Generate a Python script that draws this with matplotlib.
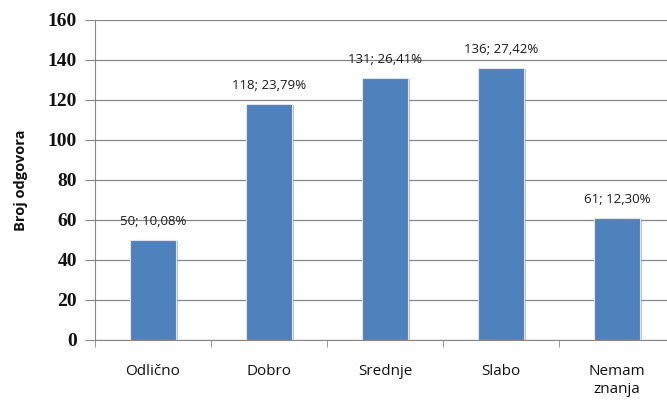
import numpy as np
import matplotlib
matplotlib.use("Agg")
import matplotlib.pyplot as plt
import matplotlib.patheffects as pe

categories = ["Odlično", "Dobro", "Srednje", "Slabo", "Nemam\nznanja"]
counts = [50, 118, 131, 136, 61]
labels = ["50; 10,08%", "118; 23,79%", "131; 26,41%", "136; 27,42%", "61; 12,30%"]
yticks = [0, 20, 40, 60, 80, 100, 120, 140, 160]

fig = plt.figure(figsize=(6.67, 4.03), dpi=100)
# plot area runs past the right edge in the original picture
ax = fig.add_axes([95 / 667, 1 - 340 / 403, 580 / 667, 320 / 403])

x = np.arange(len(categories))
bars = ax.bar(x, counts, width=0.39, color="#4F81BD", edgecolor="#DCE6F2",
              linewidth=0.8, zorder=3,
              path_effects=[pe.SimplePatchShadow(offset=(2, -1), shadow_rgbFace="#9a9a9a", alpha=0.6),
                            pe.Normal()])

for xi, c, lab in zip(x, counts, labels):
    ax.text(xi, c + 6, lab, ha="center", va="bottom", fontsize=9.5,
            family="Open Sans", color="#1a1a1a", zorder=4)

ax.set_xlim(-0.5, len(categories) - 0.5)
ax.set_ylim(0, 160)
ax.set_yticks(yticks)
ax.set_yticklabels([str(t) for t in yticks], family="Liberation Serif",
                   fontweight="bold", fontsize=14, color="#111111")
ax.set_xticks(x)
ax.set_xticklabels(categories, family="Open Sans", fontsize=11, linespacing=1.3,
                   color="#111111")
ax.set_xticks(np.arange(len(categories) + 1) - 0.5, minor=True)
ax.tick_params(axis="x", which="major", length=0, pad=17)
ax.tick_params(axis="x", which="minor", length=5, color="#888888", direction="out")
ax.tick_params(axis="y", length=7, color="#888888", pad=6)
ax.grid(axis="y", color="#868686", linewidth=0.9, zorder=0)

for s in ["top", "right"]:
    ax.spines[s].set_visible(False)
ax.spines["left"].set_color("#888888")
ax.spines["bottom"].set_color("#888888")

ax.set_ylabel("Broj odgovora", family="Open Sans", fontweight="bold", fontsize=10.5,
              labelpad=14, color="#111111")

fig.savefig("out.png", dpi=100)
